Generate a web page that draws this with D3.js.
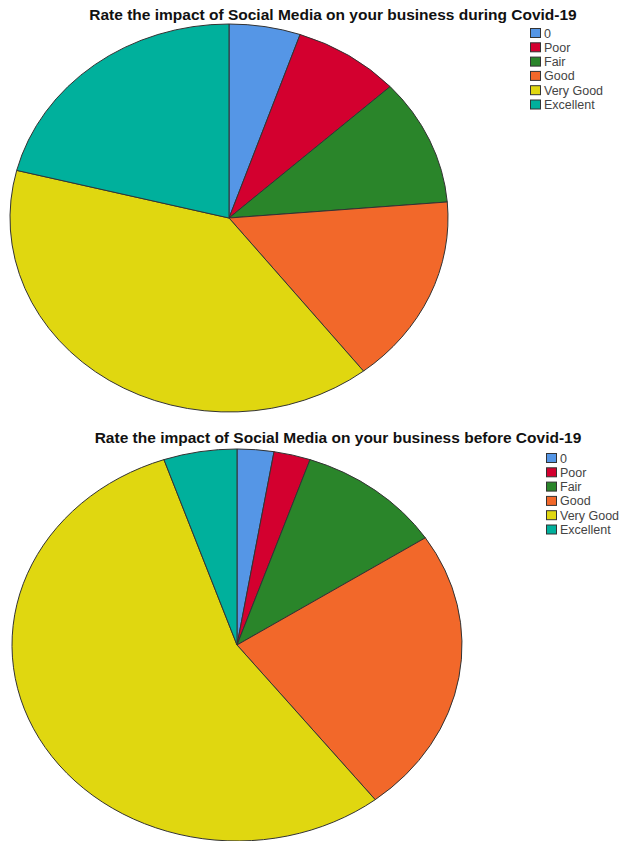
<!DOCTYPE html>
<html>
<head>
<meta charset="utf-8">
<script src="https://cdn.jsdelivr.net/npm/d3@7"></script>
<style>
  body { margin: 0; background: #fff; }
  .title { font-family: "Liberation Sans", Arial, sans-serif; font-weight: bold; font-size: 15.5px; fill: #111; }
  .legend-text { font-family: "Liberation Sans", Arial, sans-serif; font-size: 12.5px; fill: #444; }
</style>
</head>
<body>
<svg id="chart" width="622" height="841"></svg>
<script>
const categories = ['0', 'Poor', 'Fair', 'Good', 'Very Good', 'Excellent'];
const colors = ['#5596e6', '#d3002f', '#2a852a', '#f2682a', '#e0d710', '#00b09c'];
const duringCounts = [2, 3, 4, 6, 15, 8];
const beforeCounts = [1, 1, 4, 9, 21, 2];
const titles = [
  'Rate the impact of Social Media on your business during Covid-19',
  'Rate the impact of Social Media on your business before Covid-19'
];

const svg = d3.select('#chart');
const colorScale = d3.scaleOrdinal().domain(categories).range(colors);

const panels = [
  { values: duringCounts, title: titles[0], cx: 229, cy: 218, rx: 219, ry: 194, titleX: 333, titleY: 19.5, legendX: 530, legendY: 28 },
  { values: beforeCounts, title: titles[1], cx: 237, cy: 645, rx: 225, ry: 196, titleX: 338, titleY: 443, legendX: 546, legendY: 453 }
];

const pie = d3.pie().sort(null).value(d => d.value);

panels.forEach(p => {
  const data = categories.map((c, i) => ({ category: c, value: p.values[i] }));
  const arc = d3.arc().innerRadius(0).outerRadius(p.rx);

  const g = svg.append('g')
    .attr('transform', `translate(${p.cx},${p.cy}) scale(1,${p.ry / p.rx})`);

  g.selectAll('path').data(pie(data))
    .enter().append('path')
      .attr('d', arc)
      .attr('fill', d => colorScale(d.data.category))
      .attr('stroke', '#333')
      .attr('stroke-width', 1)
      .attr('vector-effect', 'non-scaling-stroke');

  svg.append('text')
    .attr('class', 'title')
    .attr('x', p.titleX)
    .attr('y', p.titleY)
    .attr('text-anchor', 'middle')
    .text(p.title);

  const legendG = svg.append('g')
    .attr('transform', `translate(${p.legendX},${p.legendY})`);

  const items = legendG.selectAll('g').data(categories)
    .enter().append('g')
      .attr('transform', (d, i) => `translate(0,${i * 14.3})`);

  items.append('rect')
    .attr('x', 0.5)
    .attr('y', 0.5)
    .attr('width', 10)
    .attr('height', 9)
    .attr('fill', d => colorScale(d))
    .attr('stroke', '#333')
    .attr('stroke-width', 1);

  items.append('text')
    .attr('class', 'legend-text')
    .attr('x', 14)
    .attr('y', 9.5)
    .text(d => d);
});
</script>
</body>
</html>
